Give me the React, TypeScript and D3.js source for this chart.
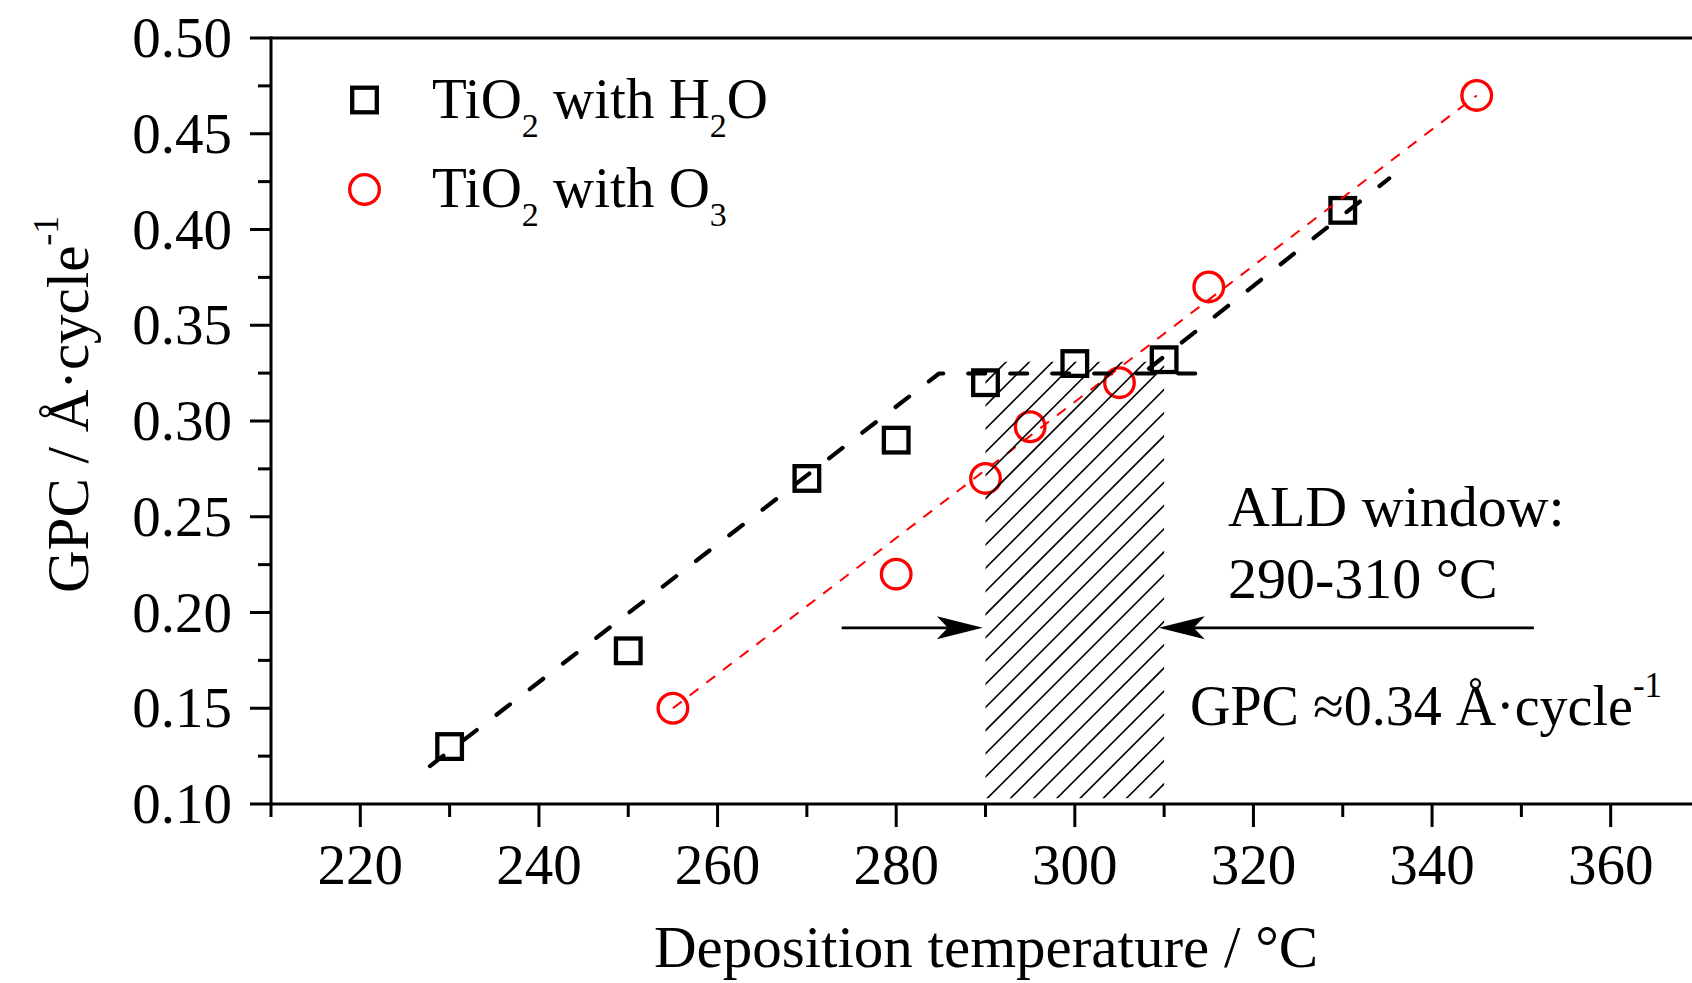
import React from 'react';
import * as d3 from 'd3';

// Growth per cycle of TiO2 versus deposition temperature
const h2oTemp = [230, 250, 270, 280, 290, 300, 310, 330];
const h2oGpc = [0.13, 0.18, 0.27, 0.29, 0.32, 0.33, 0.332, 0.41];
const o3Temp = [255, 280, 290, 295, 305, 315, 345];
const o3Gpc = [0.15, 0.22, 0.27, 0.297, 0.32, 0.37, 0.47];

// Guide lines (linear segments)
const h2oRiseTemp = [227.8, 284.8, 314.0];
const h2oRiseGpc = [0.1198, 0.3248, 0.3248];
const h2oHighTemp = [308.3, 335.2];
const h2oHighGpc = [0.3274, 0.4267];
const o3FitTemp = [255, 345];
const o3FitGpc = [0.15, 0.47];

// ALD window
const windowTemp = [290, 310];
const windowGpc = [0.103, 0.331];
const arrowGpc = 0.192;
const arrowLeftTemp = [273.9, 289.7];
const arrowRightTemp = [351.4, 309.4];

const xTicks = [220, 240, 260, 280, 300, 320, 340, 360];
const xMinorTicks = [210, 230, 250, 270, 290, 310, 330, 350, 370];
const yTicks = [0.1, 0.15, 0.2, 0.25, 0.3, 0.35, 0.4, 0.45, 0.5];
const yMinorTicks = [0.125, 0.175, 0.225, 0.275, 0.325, 0.375, 0.425, 0.475];

const W = 1692;
const H = 983;
const FONT = "'Liberation Serif', 'Times New Roman', serif";

const x = d3.scaleLinear().domain([210, 370]).range([271, 1700]);
const y = d3.scaleLinear().domain([0.1, 0.5]).range([804, 38]);
const fmt = d3.format('.2f');

const lineGen = d3
  .line<[number, number]>()
  .x((d) => x(d[0]))
  .y((d) => y(d[1]));

const zip = (a: number[], b: number[]): [number, number][] => a.map((v, i) => [v, b[i]]);

function Arrow({ from, to, yv }: { from: number; to: number; yv: number }) {
  const x0 = x(from);
  const tx = x(to);
  const ty = y(yv);
  const dir = tx > x0 ? 1 : -1;
  const back = tx - dir * 46;
  const notch = tx - dir * 35;
  const head = `M${tx},${ty} L${back},${ty - 11.5} L${notch},${ty} L${back},${ty + 11.5} Z`;
  return (
    <g>
      <line x1={x0} y1={ty} x2={notch} y2={ty} stroke="#000" strokeWidth={2.8} />
      <path d={head} fill="#000" />
    </g>
  );
}

export default function App() {
  const hx0 = x(windowTemp[0]);
  const hx1 = x(windowTemp[1]);
  const hy0 = y(windowGpc[1]);
  const hy1 = y(windowGpc[0]);
  const step = 23.2;
  const phase = 1600;
  const cMin = hx0 + hy0;
  const cMax = hx1 + hy1;
  const kStart = Math.floor((cMin - phase) / step) - 1;
  const kEnd = Math.ceil((cMax - phase) / step) + 1;
  const hatch = d3.range(kStart, kEnd + 1).map((k) => phase + k * step);

  const axisW = 3;

  return (
    <svg
      width={W}
      height={H}
      viewBox={`0 0 ${W} ${H}`}
      style={{ position: 'absolute', left: 0, top: 0, background: '#fff' }}
      fontFamily={FONT}
    >
      <defs>
        <clipPath id="winClip">
          <rect x={hx0} y={hy0} width={hx1 - hx0} height={hy1 - hy0} />
        </clipPath>
      </defs>
      <rect x={0} y={0} width={W} height={H} fill="#fff" />

      {/* frame */}
      <line x1={x(210)} y1={y(0.5)} x2={x(370)} y2={y(0.5)} stroke="#000" strokeWidth={axisW} />
      <line x1={x(370)} y1={y(0.5)} x2={x(370)} y2={y(0.1)} stroke="#000" strokeWidth={axisW} />
      <line x1={x(210)} y1={y(0.1)} x2={x(370)} y2={y(0.1)} stroke="#000" strokeWidth={axisW} />
      <line x1={x(210)} y1={y(0.1) + 1.5} x2={x(210)} y2={y(0.5) - 1.5} stroke="#000" strokeWidth={axisW} />

      {/* y ticks */}
      {yTicks.map((t) => (
        <g key={`yt${t}`}>
          <line x1={x(210) - 21} y1={y(t)} x2={x(210)} y2={y(t)} stroke="#000" strokeWidth={axisW} />
          <text x={232} y={y(t) + 19} textAnchor="end" fontSize={57}>
            {fmt(t)}
          </text>
        </g>
      ))}
      {yMinorTicks.map((t) => (
        <line key={`ym${t}`} x1={x(210) - 13} y1={y(t)} x2={x(210)} y2={y(t)} stroke="#000" strokeWidth={axisW} />
      ))}

      {/* x ticks */}
      {xTicks.map((t) => (
        <g key={`xt${t}`}>
          <line x1={x(t)} y1={y(0.1)} x2={x(t)} y2={y(0.1) + 23} stroke="#000" strokeWidth={axisW} />
          <text x={x(t)} y={884} textAnchor="middle" fontSize={57}>
            {t}
          </text>
        </g>
      ))}
      {xMinorTicks.map((t) => (
        <line key={`xm${t}`} x1={x(t)} y1={y(0.1)} x2={x(t)} y2={y(0.1) + 13} stroke="#000" strokeWidth={axisW} />
      ))}

      {/* axis titles */}
      <text x={986} y={967} textAnchor="middle" fontSize={59}>
        Deposition temperature / °C
      </text>
      <text transform="translate(88,593) rotate(-90)" fontSize={59}>
        GPC / Å·cycle
        <tspan dy={-30} fontSize={36}>
          -1
        </tspan>
      </text>

      {/* markers: H2O squares */}
      {h2oTemp.map((t, i) => (
        <rect
          key={`sq${t}`}
          x={x(t) - 12.3}
          y={y(h2oGpc[i]) - 12.3}
          width={24.6}
          height={24.6}
          fill="none"
          stroke="#000"
          strokeWidth={4.3}
        />
      ))}
      {/* markers: O3 circles */}
      {o3Temp.map((t, i) => (
        <circle key={`ci${t}`} cx={x(t)} cy={y(o3Gpc[i])} r={14.8} fill="none" stroke="#ff0000" strokeWidth={3.3} />
      ))}

      {/* guide lines */}
      <path
        d={lineGen(zip(h2oRiseTemp, h2oRiseGpc)) || ''}
        fill="none"
        stroke="#000"
        strokeWidth={4.2}
        strokeDasharray="17 25"
        strokeLinecap="round"
        strokeLinejoin="round"
      />
      <path
        d={lineGen(zip(h2oHighTemp, h2oHighGpc)) || ''}
        fill="none"
        stroke="#000"
        strokeWidth={4.2}
        strokeDasharray="17 25"
        strokeLinecap="round"
      />
      <path
        d={lineGen(zip(o3FitTemp, o3FitGpc)) || ''}
        fill="none"
        stroke="#ff0000"
        strokeWidth={2}
        strokeDasharray="11 10"
      />

      {/* ALD window hatching */}
      <g clipPath="url(#winClip)">
        {hatch.map((c) => (
          <line key={`h${c}`} x1={hx0 - 5} y1={c - hx0 + 5} x2={hx1 + 5} y2={c - hx1 - 5} stroke="#000" strokeWidth={1.6} />
        ))}
      </g>

      {/* arrows */}
      <Arrow from={arrowLeftTemp[0]} to={arrowLeftTemp[1]} yv={arrowGpc} />
      <Arrow from={arrowRightTemp[0]} to={arrowRightTemp[1]} yv={arrowGpc} />

      {/* annotations */}
      <text x={1228} y={526} fontSize={58}>
        ALD window:
      </text>
      <text x={1228} y={598} fontSize={58}>
        290-310 °C
      </text>
      <text x={1190} y={725} fontSize={56}>
        GPC ≈0.34 Å·cycle
        <tspan dy={-28} fontSize={35}>
          -1
        </tspan>
      </text>

      {/* legend */}
      <rect x={364.5 - 12.3} y={100 - 12.3} width={24.6} height={24.6} fill="none" stroke="#000" strokeWidth={4.3} />
      <text x={432} y={118} fontSize={57}>
        TiO
        <tspan dy={19} fontSize={34}>
          2
        </tspan>
        <tspan dy={-19}> with H</tspan>
        <tspan dy={19} fontSize={34}>
          2
        </tspan>
        <tspan dy={-19}>O</tspan>
      </text>
      <circle cx={364.5} cy={189.5} r={14.8} fill="none" stroke="#ff0000" strokeWidth={3.3} />
      <text x={432} y={207} fontSize={57}>
        TiO
        <tspan dy={19} fontSize={34}>
          2
        </tspan>
        <tspan dy={-19}> with O</tspan>
        <tspan dy={19} fontSize={34}>
          3
        </tspan>
      </text>
    </svg>
  );
}
